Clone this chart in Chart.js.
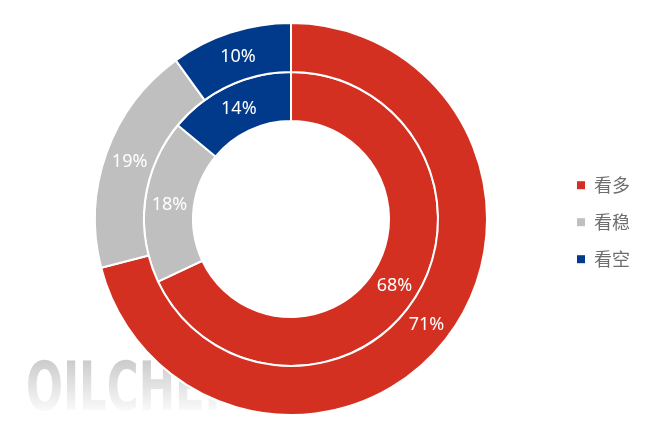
<!DOCTYPE html>
<html><head><meta charset="utf-8">
<script src="https://cdn.jsdelivr.net/npm/chart.js@4"></script>
<style>html,body{margin:0;padding:0;background:#fff}#wrap{width:650px;height:444px}</style>
</head><body><div id="wrap"><canvas id="c" width="650" height="444"></canvas></div>
<script>
const categories = ['看多', '看稳', '看空'];
const outerValues = [71, 19, 10];
const innerValues = [68, 18, 14];
const colors = ['#d33022', '#bfbfbf', '#023a8b'];

const watermark = {
  id: 'watermark',
  beforeDraw(chart) {
    const ctx = chart.ctx;
    ctx.save();
    ctx.font = "bold 68px 'DejaVu Sans Condensed', 'DejaVu Sans'";
    ctx.textBaseline = 'alphabetic';
    const txt = 'OILCHEM';
    const w = ctx.measureText(txt).width;
    ctx.translate(26, 410);
    ctx.scale(222 / w, 1);
    const g = ctx.createLinearGradient(0, -50, 0, 0);
    g.addColorStop(0, '#cbcbcb');
    g.addColorStop(1, '#f9f9f9');
    ctx.fillStyle = g;
    ctx.fillText(txt, 0, 0);
    ctx.restore();
  }
};

const sliceLabels = {
  id: 'sliceLabels',
  afterDatasetsDraw(chart) {
    const ctx = chart.ctx;
    ctx.save();
    ctx.fillStyle = '#ffffff';
    ctx.font = "18px 'Noto Sans', 'Noto Sans CJK SC', sans-serif";
    ctx.textAlign = 'center';
    ctx.textBaseline = 'middle';
    chart.data.datasets.forEach((ds, di) => {
      const meta = chart.getDatasetMeta(di);
      meta.data.forEach((arc, i) => {
        const p = arc.getCenterPoint();
        ctx.fillText(ds.data[i] + '%', p.x, p.y + 1);
      });
    });
    ctx.restore();
  }
};

new Chart(document.getElementById('c'), {
  type: 'doughnut',
  data: {
    labels: categories,
    datasets: [
      { data: outerValues, backgroundColor: colors, borderColor: '#ffffff', borderWidth: 2 },
      { data: innerValues, backgroundColor: colors, borderColor: '#ffffff', borderWidth: 2 }
    ]
  },
  options: {
    responsive: false,
    animation: false,
    events: [],
    cutout: '50%',
    layout: { padding: { top: 22, bottom: 28, left: 24, right: 10 } },
    plugins: {
      tooltip: { enabled: false },
      legend: {
        position: 'right',
        title: { display: true, text: ' ', font: { size: 2 }, padding: 2 },
        labels: {
          boxWidth: 8,
          boxHeight: 8,
          padding: 19,
          color: '#6e6e6e',
          font: { size: 18, family: "'Noto Sans CJK SC', sans-serif" },
          generateLabels(chart) {
            const items = Chart.overrides.doughnut.plugins.legend.labels.generateLabels(chart);
            return items.map(it => Object.assign(it, { lineWidth: 0, strokeStyle: 'rgba(0,0,0,0)' }));
          }
        }
      }
    }
  },
  plugins: [watermark, sliceLabels]
});
</script></body></html>
